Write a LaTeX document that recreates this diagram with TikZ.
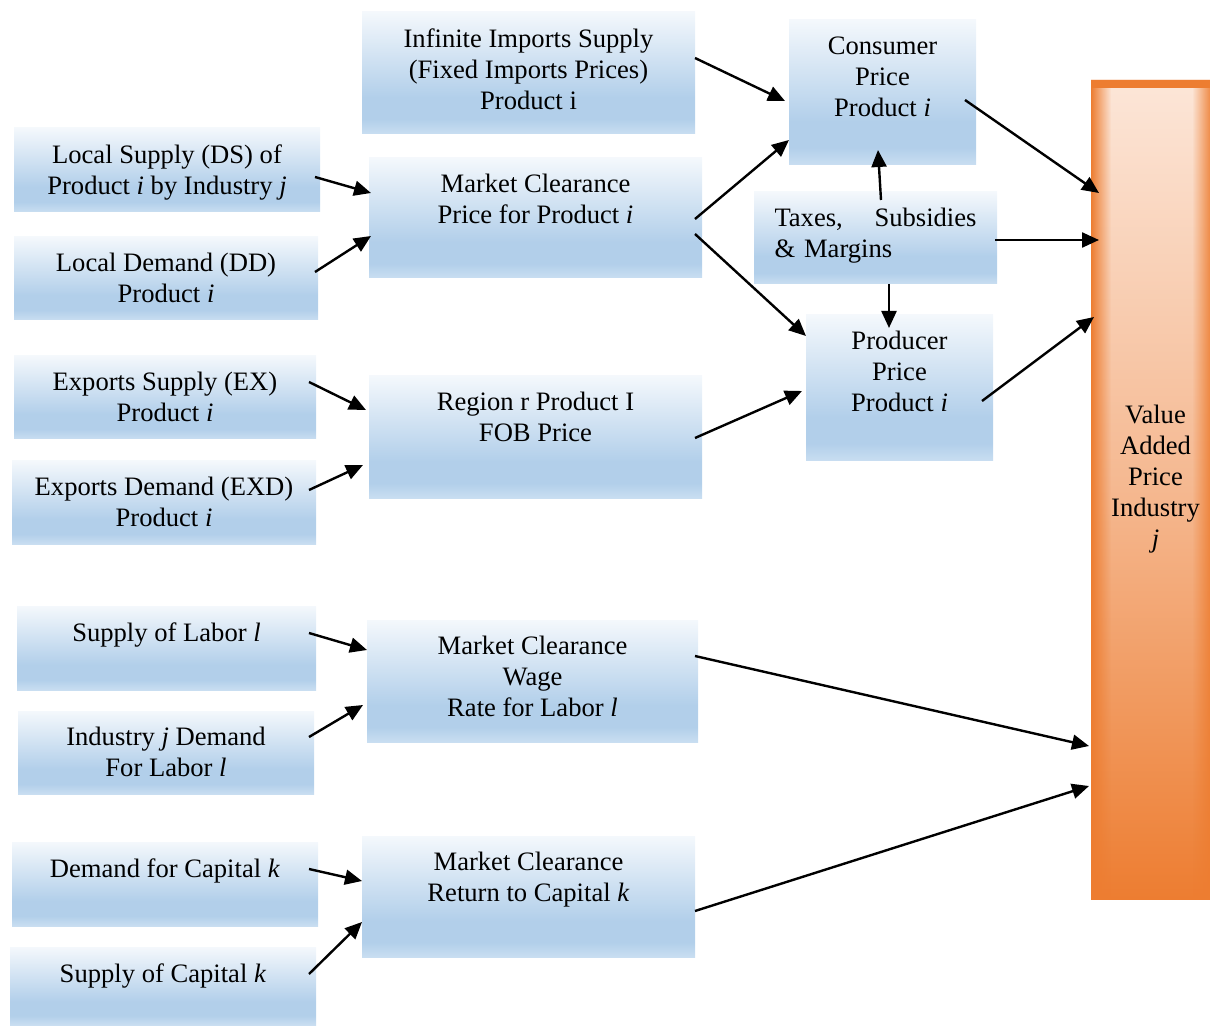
\documentclass[tikz,border=0pt]{standalone}
\usepackage{fontspec}
\setmainfont{Liberation Serif}
\usetikzlibrary{arrows.meta,calc,fadings}

\definecolor{boxtop}{HTML}{F4F8FC}
\definecolor{boxmid}{HTML}{B2CFEA}
\definecolor{boxbot}{HTML}{C9DEF1}
\definecolor{vaorange}{HTML}{ED7D31}
\definecolor{vamid}{HTML}{F5B890}
\definecolor{vapeach}{HTML}{FCE6D8}

\pgfdeclareverticalshading{boxshade}{100bp}{color(0bp)=(boxbot); color(25bp)=(boxbot); color(31bp)=(boxmid); color(40bp)=(boxmid); color(75bp)=(boxtop); color(100bp)=(boxtop)}
\pgfdeclareverticalshading{vashade}{100bp}{color(0bp)=(vaorange); color(25bp)=(vaorange); color(50bp)=(vamid); color(75bp)=(vapeach); color(100bp)=(vapeach)}
\tikzfading[name=fadeleft, left color=transparent!0, right color=transparent!100]
\tikzfading[name=faderight, left color=transparent!100, right color=transparent!0]

\begin{document}
\begin{tikzpicture}[x=0.5pt, y=-0.5pt,
  box/.style={shading=boxshade, inner sep=0pt, outer sep=0pt},
  txt/.style={anchor=north, yshift=-8pt, inner sep=0pt, align=center, font=\fontsize{13.3}{15.5}\selectfont},
  link/.style={line width=1.2pt, -{Triangle[length=8.5pt,width=7.5pt]}}
]
\useasboundingbox (0,0) rectangle (1210,1026);

% Boxes (left column)
\node[box, minimum width=153pt, minimum height=42pt, label={[txt]north:{Local Supply (DS) of\\Product \textit{i} by Industry \textit{j}}}] (ls) at (167,170) {};
\node[box, minimum width=152pt, minimum height=41.5pt, label={[txt]north:{Local Demand (DD)\\Product \textit{i}}}] (ld) at (166,278.5) {};
\node[box, minimum width=151pt, minimum height=41.5pt, label={[txt]north:{Exports Supply (EX)\\Product \textit{i}}}] (exs) at (165,397.5) {};
\node[box, minimum width=152pt, minimum height=41.5pt, label={[txt]north:{Exports Demand (EXD)\\Product \textit{i}}}] (exd) at (164,502.5) {};
\node[box, minimum width=149.5pt, minimum height=42pt, label={[txt]north:{Supply of Labor \textit{l}}}] (sl) at (166.5,648) {};
\node[box, minimum width=148pt, minimum height=41.5pt, label={[txt]north:{Industry \textit{j} Demand\\For Labor \textit{l}}}] (idl) at (166,752.5) {};
\node[box, minimum width=153pt, minimum height=42pt, label={[txt]north:{Demand for Capital \textit{k}}}] (dk) at (165,884) {};
\node[box, minimum width=153pt, minimum height=39pt, label={[txt]north:{Supply of Capital \textit{k}}}] (sk) at (163,986) {};

% Boxes (middle column)
\node[box, minimum width=166.5pt, minimum height=61pt, label={[txt]north:{Infinite Imports Supply\\(Fixed Imports Prices)\\Product i}}] (imp) at (528.5,73) {};
\node[box, minimum width=166.5pt, minimum height=60pt, label={[txt]north:{Market Clearance\\Price for Product \textit{i}}}] (mcp) at (535.5,218) {};
\node[box, minimum width=166.5pt, minimum height=61pt, label={[txt]north:{Region r Product I\\FOB Price}}] (fob) at (535.5,437) {};
\node[box, minimum width=165.5pt, minimum height=61pt, label={[txt]north:{Market Clearance\\Wage\\Rate for Labor \textit{l}}}] (mcw) at (532.5,681) {};
\node[box, minimum width=166.5pt, minimum height=60.5pt, label={[txt]north:{Market Clearance\\Return to Capital \textit{k}}}] (mck) at (528.5,896.5) {};

% Boxes (prices)
\node[box, minimum width=93.5pt, minimum height=72.5pt, label={[txt]north:{Consumer\\Price\\Product \textit{i}}}] (cons) at (882.5,92.5) {};
\node[box, minimum width=121.5pt, minimum height=46pt, label={[txt, align=left, text width=101pt]north:{Taxes,\hfill Subsidies\\\& Margins}}] (tax) at (875.5,238) {};
\node[box, minimum width=93.5pt, minimum height=73pt, label={[txt]north:{Producer\\Price\\Product \textit{i}}}] (prod) at (899.5,388) {};

% Value added bar
\node[shading=vashade, inner sep=0pt, outer sep=0pt, minimum width=59.5pt, minimum height=409.5pt] (va) at (1150.5,489.5) {};
\fill[vaorange, path fading=fadeleft] (va.north west) rectangle ([xshift=10pt]va.south west);
\fill[vaorange, path fading=faderight, opacity=0.85] ([xshift=-9pt]va.north east) rectangle (va.south east);
\fill[vaorange] (va.north west) rectangle ([yshift=-4pt]va.north east);
\node[txt, yshift=-154.5pt, xshift=2.5pt] (vat) at (va.north) {Value\\Added\\Price\\Industry\\\textit{j}};

% Links into market clearing
\draw[link] ($(ls.east)+(-5,7)$) -- ($(mcp.west)+(2,-25)$);
\draw[link] ($(ld.east)+(-3,-6.5)$) -- ($(mcp.west)+(2,18)$);
\draw[link] ($(exs.east)+(-7,-15.5)$) -- ($(fob.west)+(-3,-27)$);
\draw[link] ($(exd.east)+(-7,-12.5)$) -- ($(fob.west)+(-6,28)$);
\draw[link] ($(sl.east)+(-7,-15)$) -- ($(mcw.west)+(0,-31)$);
\draw[link] ($(idl.east)+(-5,-15.5)$) -- ($(mcw.west)+(-4,24)$);
\draw[link] ($(dk.east)+(-9,-15)$) -- ($(mck.west)+(0,-15.5)$);
\draw[link] ($(sk.east)+(-7,-12)$) -- ($(mck.west)+(0,25.5)$);

% Links to prices
\draw[link] ($(imp.east)+(0,-15)$) -- ($(cons.west)+(-4,8.5)$);
\draw[link] ($(mcp.east)+(-7,1)$) -- ($(cons.west)+(0,47.5)$);
\draw[link] ($(mcp.east)+(-7,16)$) -- ($(prod.west)+(0,-52)$);
\draw[link] ($(fob.east)+(-7,1)$) -- ($(prod.west)+(-4,3)$);
\draw[link] ($(tax.north)+(5.5,8)$) -- ($(cons.south)+(-4.5,-15)$);
\draw[link] ($(tax.south)+(13.5,0)$) -- ($(prod.north)+(-10.5,13)$);

% Links to value added
\draw[link] ($(cons.east)+(-11,7.5)$) -- ($(va.north west)+(8,113)$);
\draw[link] ($(tax.east)+(-2,2)$) -- ($(va.north west)+(8,160)$);
\draw[link] ($(prod.east)+(-11,13)$) -- ($(va.north west)+(3,237)$);
\draw[link] ($(mcw.east)+(-3,-25)$) -- ($(va.north west)+(-2,666)$);
\draw[link] ($(mck.east)+(0,14.5)$) -- ($(va.north west)+(-2,706)$);

\end{tikzpicture}
\end{document}
